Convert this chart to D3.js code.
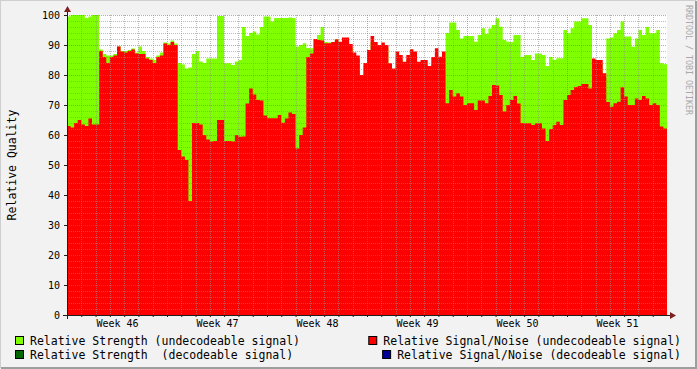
<!doctype html>
<html lang="en">
<head>
    <meta charset="UTF-8">
    <title>Relative Quality</title>
    <style>
        body { margin: 0; background: #f2f2f2; }
        svg { display: block; font-family: "DejaVu Sans Mono", monospace; }
    </style>
</head>
<body>
    <svg id="chart" width="697" height="369"></svg>
    <script src="https://cdnjs.cloudflare.com/ajax/libs/d3/7.8.5/d3.min.js"></script>
    <script>
        // one sample every 6 hours, six weeks of data
        const sampleHours = 6;
        const weekLabels = ["Week 46", "Week 47", "Week 48", "Week 49", "Week 50", "Week 51"];
        const yTicks = [0, 10, 20, 30, 40, 50, 60, 70, 80, 90, 100];

        // Relative Strength (undecodeable signal)
        const strength = [
            99.5, 100, 100, 100,   100, 99, 99.5, 100,   100, 88.5, 87, 86.5,   86.5, 87, 89.5, 88,
            88, 88.3, 88.8, 87.5,  89.5, 88, 86, 85.5,   85, 86.5, 87.5, 90.8,  90.5, 91.5, 90.5, 84,
            83.5, 82.2, 82.5, 87,  88, 84.5, 84, 85.5,   85.5, 85.5, 99.7, 99.7, 83.9, 83.9, 83.3, 84.5,
            85, 96, 93, 94,        94.5, 93.5, 96, 99.5, 99.5, 97.8, 99, 99,  99, 99, 99.2, 99,
            89.5, 90, 90.6, 89,    88.9, 88.5, 93.3, 96, 91, 90.8, 91, 92,    90, 91, 91, 89,
            86, 85, 79, 83,        87, 91, 90, 89,       89, 89, 83, 81,       86, 85, 83, 85,
            87, 86, 83, 84,        84, 82, 84, 85,       85, 86, 94, 97.5,     97.5, 95, 92.2, 93,
            93, 93, 91.1, 93.3,    95.6, 93.7, 95.5, 96.7, 98.9, 96.1, 91.7, 91.1, 91, 93.3, 93.3, 86,
            86.7, 86.7, 85, 87.2,  87.2, 86.7, 83, 86,   85, 85.6, 85.6, 95,   93.9, 95.6, 97.8, 97.8,
            98.9, 98.9, 96.7, 85,  84, 84, 79, 92.2,     92.5, 93.9, 95, 97.8, 92.8, 92.8, 89.4, 92.2,
            95, 93.3, 96, 93.9,    93.9, 95, 83.9, 83.6
        ];

        // Relative Signal/Noise (undecodeable signal)
        const signalNoise = [
            63, 62.5, 64, 65,      63.5, 63, 65.5, 63.5, 63.5, 88, 86, 84,     86, 86.5, 89.5, 87.8,
            87.5, 88, 88.5, 87.2,  87, 87, 85.5, 85,     84, 86, 86.5, 90.5,   90, 91, 90, 55,
            52.8, 51.7, 38, 64,    64, 63.5, 60, 58.5,   57.8, 58, 65, 65,     58, 58, 57.8, 60,
            59.4, 59.5, 70.5, 75.5, 73.5, 71.7, 71.5, 66.5, 65.6, 65.6, 65.6, 66.7, 64.1, 65.5, 67.5, 67,
            55.5, 60, 62.5, 86,    87.2, 92, 91.7, 91.5, 90.6, 90.6, 91, 91.9, 91.1, 92.5, 92.5, 90.3,
            87.5, 86.5, 80, 84,    88.3, 93, 91, 90,     90.8, 90, 83.9, 82.2, 87.8, 86.7, 84.4, 86.7,
            88.6, 87.8, 84.4, 85,  85, 83, 86, 88.9,     86.1, 87.8, 70.6, 75, 72.8, 73.9, 72.8, 70,
            70.6, 70.6, 68.3, 71.5, 71.5, 70.6, 73, 76.7, 76.5, 73.3, 67.8, 70, 71.7, 73, 70.5, 64,
            63.9, 63.9, 63.3, 63.9, 63.9, 62.2, 58, 62,  63.3, 64.4, 63.3, 71.7, 73.3, 75, 76, 76.3,
            77, 77, 75.5, 85.5,    85, 85, 80.6, 71,     69.4, 70.6, 71.1, 75.9, 72.8, 70, 70, 72.2,
            71.7, 73, 72.2, 70,    70.6, 70, 62.8, 62.2
        ];

        const legendLabels = [
            "Relative Strength (undecodeable signal)",
            "Relative Signal/Noise (undecodeable signal)",
            "Relative Strength  (decodeable signal)",
            "Relative Signal/Noise (decodeable signal)"
        ];
        const legendColors = ["#7fff00", "#ff0000", "#006600", "#000099"];

        let margin = {top: 15, right: 30, bottom: 54, left: 67},
            width = 697 - margin.left - margin.right,
            height = 369 - margin.top - margin.bottom;

        let totalHours = weekLabels.length * 168;

        let x = d3.scaleLinear().domain([0, totalHours]).range([0, width]);
        let y = d3.scaleLinear().domain([0, 100]).range([height, 0]);

        let root = d3.select("#chart");

        // 3d frame of the canvas
        root.append("rect").attr("width", 697).attr("height", 369).attr("fill", "#f2f2f2");
        root.append("path").attr("d", "M0,368 V0 H696").attr("fill", "none")
            .attr("stroke", "#cfcfcf").attr("stroke-width", 2);
        root.append("path").attr("d", "M696,1 V368 H1").attr("fill", "none")
            .attr("stroke", "#9e9e9e").attr("stroke-width", 2);

        let svg = root.append("g")
            .attr("transform", `translate(${margin.left},${margin.top})`);

        svg.append("rect")
            .attr("width", width)
            .attr("height", height)
            .attr("fill", "#ffffff");

        // turn the samples into step points, last one closes the step
        function toPoints(values) {
            let pts = values.map(function(v, i) { return {t: i * sampleHours, v: v}; });
            pts.push({t: values.length * sampleHours, v: values[values.length - 1]});
            return pts;
        }

        let area = d3.area()
            .curve(d3.curveStepAfter)
            .x(function(d) { return x(d.t); })
            .y0(y(0))
            .y1(function(d) { return y(d.v); });

        svg.append("path")
            .datum(toPoints(strength))
            .attr("fill", "#7fff00")
            .attr("d", area);

        svg.append("path")
            .datum(toPoints(signalNoise))
            .attr("fill", "#ff0000")
            .attr("d", area);

        // grid: minor every 2 / every day, major every 10 / every week
        let minorY = d3.range(2, 100, 2).filter(function(v) { return v % 10 !== 0; });
        let majorY = d3.range(10, 101, 10);
        let minorX = d3.range(24, totalHours, 24).filter(function(h) { return h % 168 !== 0; });
        let majorX = d3.range(168, totalHours, 168);

        let grid = svg.append("g").attr("shape-rendering", "crispEdges");

        grid.selectAll(".gy").data(minorY).enter().append("line")
            .attr("x1", 0).attr("x2", width)
            .attr("y1", function(d) { return y(d) + 0.5; }).attr("y2", function(d) { return y(d) + 0.5; })
            .attr("stroke", "rgba(143,143,143,0.6)").attr("stroke-dasharray", "1,1");

        grid.selectAll(".gx").data(minorX).enter().append("line")
            .attr("y1", 0).attr("y2", height)
            .attr("x1", function(d) { return Math.round(x(d)) + 0.5; }).attr("x2", function(d) { return Math.round(x(d)) + 0.5; })
            .attr("stroke", "rgba(143,143,143,0.6)").attr("stroke-dasharray", "1,1");

        grid.selectAll(".my").data(majorY).enter().append("line")
            .attr("x1", 0).attr("x2", width)
            .attr("y1", function(d) { return y(d) + 0.5; }).attr("y2", function(d) { return y(d) + 0.5; })
            .attr("stroke", "rgba(222,79,79,0.6)").attr("stroke-dasharray", "1,1");

        grid.selectAll(".mx").data(majorX).enter().append("line")
            .attr("y1", 0).attr("y2", height)
            .attr("x1", function(d) { return Math.round(x(d)) + 0.5; }).attr("x2", function(d) { return Math.round(x(d)) + 0.5; })
            .attr("stroke", "rgba(222,79,79,0.6)").attr("stroke-dasharray", "1,1");

        // y axis with labels
        let yAxis = svg.append("g")
            .call(d3.axisLeft(y).tickValues(yTicks).tickSize(3).tickPadding(4))
            .attr("font-size", "10px")
            .attr("font-family", "DejaVu Sans Mono");
        yAxis.select(".domain").remove();
        yAxis.selectAll("line").attr("stroke", "#1f1f1f");
        yAxis.selectAll("text").attr("fill", "#000");

        // x axis: day ticks and week labels
        let xTicks = svg.append("g")
            .attr("transform", "translate(0," + height + ")")
            .call(d3.axisBottom(x).tickValues(d3.range(0, totalHours, 24)).tickSize(2).tickFormat(""));
        xTicks.select(".domain").remove();
        xTicks.selectAll("line").attr("stroke", "#1f1f1f");

        let xLabels = svg.append("g")
            .attr("transform", "translate(0," + height + ")")
            .call(d3.axisBottom(x)
                .tickValues(weekLabels.map(function(w, i) { return 84 + i * 168; }))
                .tickSize(0)
                .tickPadding(5)
                .tickFormat(function(d, i) { return weekLabels[i]; }))
            .attr("font-size", "10px")
            .attr("font-family", "DejaVu Sans Mono");
        xLabels.select(".domain").remove();
        xLabels.selectAll("text").attr("fill", "#000");

        // axis lines with arrows
        svg.append("line")
            .attr("x1", -4).attr("x2", width + 5)
            .attr("y1", height + 0.5).attr("y2", height + 0.5)
            .attr("stroke", "#1f1f1f");
        svg.append("line")
            .attr("x1", 0.5).attr("x2", 0.5)
            .attr("y1", height + 4).attr("y2", -5)
            .attr("stroke", "#1f1f1f");
        svg.append("path")
            .attr("d", `M${width + 3},${height - 3} L${width + 9},${height + 0.5} L${width + 3},${height + 4} Z`)
            .attr("fill", "#801f1f");
        svg.append("path")
            .attr("d", "M-3,-3 L0.5,-9 L4,-3 Z")
            .attr("fill", "#801f1f");

        // vertical axis title
        root.append("text")
            .attr("transform", "translate(16,165) rotate(-90)")
            .attr("text-anchor", "middle")
            .attr("font-size", "11.5px")
            .text("Relative Quality");

        // watermark
        root.append("text")
            .attr("transform", "translate(686,5) rotate(90)")
            .attr("font-size", "8.3px")
            .attr("fill", "#a8a8a8")
            .text("RRDTOOL / TOBI OETIKER");

        // legend, left column starts at 30, right column ends at 681
        let legend = root.append("g").attr("font-size", "11.5px");
        legendLabels.forEach(function(label, i) {
            let row = Math.floor(i / 2), col = i % 2;
            let baseline = 345 + row * 14;
            let txt = legend.append("text")
                .attr("y", baseline)
                .style("white-space", "pre")
                .attr("fill", "#000")
                .text(label);
            let start = 30;
            if (col === 1) {
                start = 681 - txt.node().getComputedTextLength();
            }
            txt.attr("x", start);
            legend.append("rect")
                .attr("x", start - 14.5)
                .attr("y", baseline - 8.5)
                .attr("width", 8)
                .attr("height", 8)
                .attr("fill", legendColors[i])
                .attr("stroke", "#000")
                .attr("stroke-width", 1);
        });
    </script>
</body>
</html>
